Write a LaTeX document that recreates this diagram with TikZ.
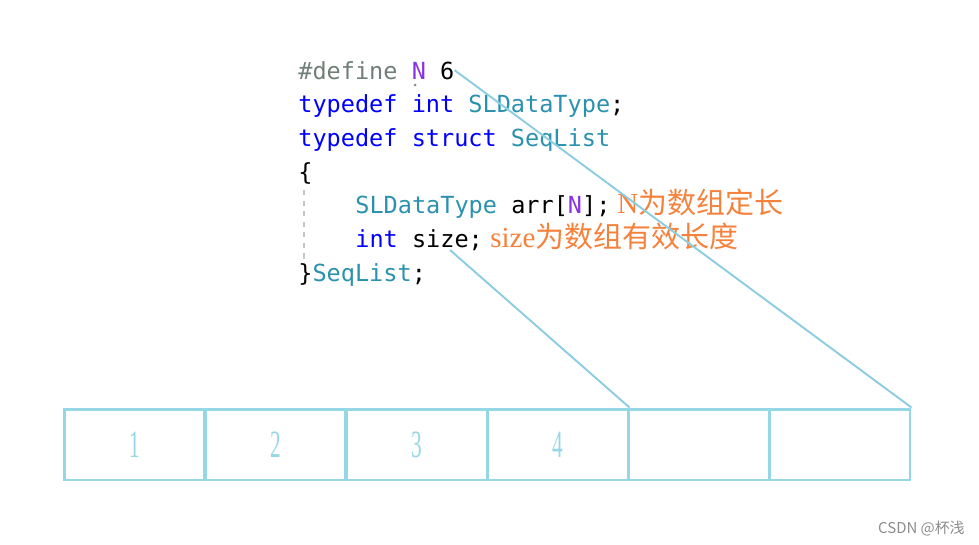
\documentclass[tikz,border=0pt]{standalone}
\usepackage{fontspec}
\usepackage{graphicx}
\setmonofont{DejaVu Sans Mono}
\newfontfamily\cjk{Noto Sans CJK SC}
\newfontfamily\numfont{Liberation Serif}
\definecolor{KwBlue}{RGB}{0,0,255}
\definecolor{TypeTeal}{RGB}{43,145,175}
\definecolor{MacroViolet}{RGB}{136,50,230}
\definecolor{PrepGray}{RGB}{112,128,120}
\definecolor{NoteOrange}{RGB}{245,130,60}
\definecolor{CellBlue}{RGB}{150,215,230}
\definecolor{LinkBlue}{RGB}{140,205,225}
\newcommand\kwd[1]{\textcolor{KwBlue}{#1}}
\newcommand\typ[1]{\textcolor{TypeTeal}{#1}}
\newcommand\mac[1]{\textcolor{MacroViolet}{#1}}
\usetikzlibrary{positioning}

\begin{document}
\begin{tikzpicture}[x=0.02cm, y=-0.02cm,
	codeline/.style={anchor=base west, inner sep=0pt, font=\ttfamily\fontsize{13.4}{13.4}\selectfont},
	note/.style={anchor=base west, inner sep=0pt, text=NoteOrange, font=\fontsize{16.5}{16.5}\selectfont},
	cellbox/.style={draw=CellBlue, line width=1.7pt, minimum width=2.82cm, minimum height=1.42cm,
		inner sep=0pt, text=CellBlue, font=\numfont\fontsize{22}{22}\selectfont},
	link/.style={draw=LinkBlue, line width=1.1pt}]
	\useasboundingbox (0,0) rectangle (979,544);
	\foreach \i/\y/\txt in {
		def/79/{\textcolor{PrepGray}{\#define} \mac{N} 6},
		dtype/112.7/{\kwd{typedef} \kwd{int} \typ{SLDataType};},
		stru/146.4/{\kwd{typedef} \kwd{struct} \typ{SeqList}},
		open/180/{\{},
		close/281.2/{\}\typ{SeqList};}}{
		\node[codeline] (l\i) at (298,\y) {\txt};
	}
	\node[codeline] (larr) at (355,213.8) {\typ{SLDataType} arr[\mac{N}];};
	\node[codeline] (lsize) at (355,247.5) {\kwd{int} size;};
	\draw[black!22, dashed, line width=0.6pt] (304,190) -- (304,262);
	\fill[black!45] (415,85) circle (1.5);
	\node[note] (cN) at (617,213.8) {{\numfont N}{\cjk 为数组定长}};
	\node[note] (cSize) at (490,247.5) {{\numfont size}{\cjk 为数组有效长度}};
	\foreach \i/\num in {1/1,2/2,3/3,4/4,5/,6/}{
		\node[cellbox] (cell\i) at ({64+141*(\i-0.5)},444.5) {\scalebox{0.55}[1]{\num}};
	}
	\coordinate (sz) at (450,250);
	\draw[link] (ldef.east) -- (cell6.north east);
	\draw[link] (sz) -- (cell4.north east);
	\node[anchor=base east, inner sep=0pt, text=black!45, font=\cjk\fontsize{8.5}{8.5}\selectfont] (mark) at (965,533) {CSDN @杯浅};
\end{tikzpicture}
\end{document}
